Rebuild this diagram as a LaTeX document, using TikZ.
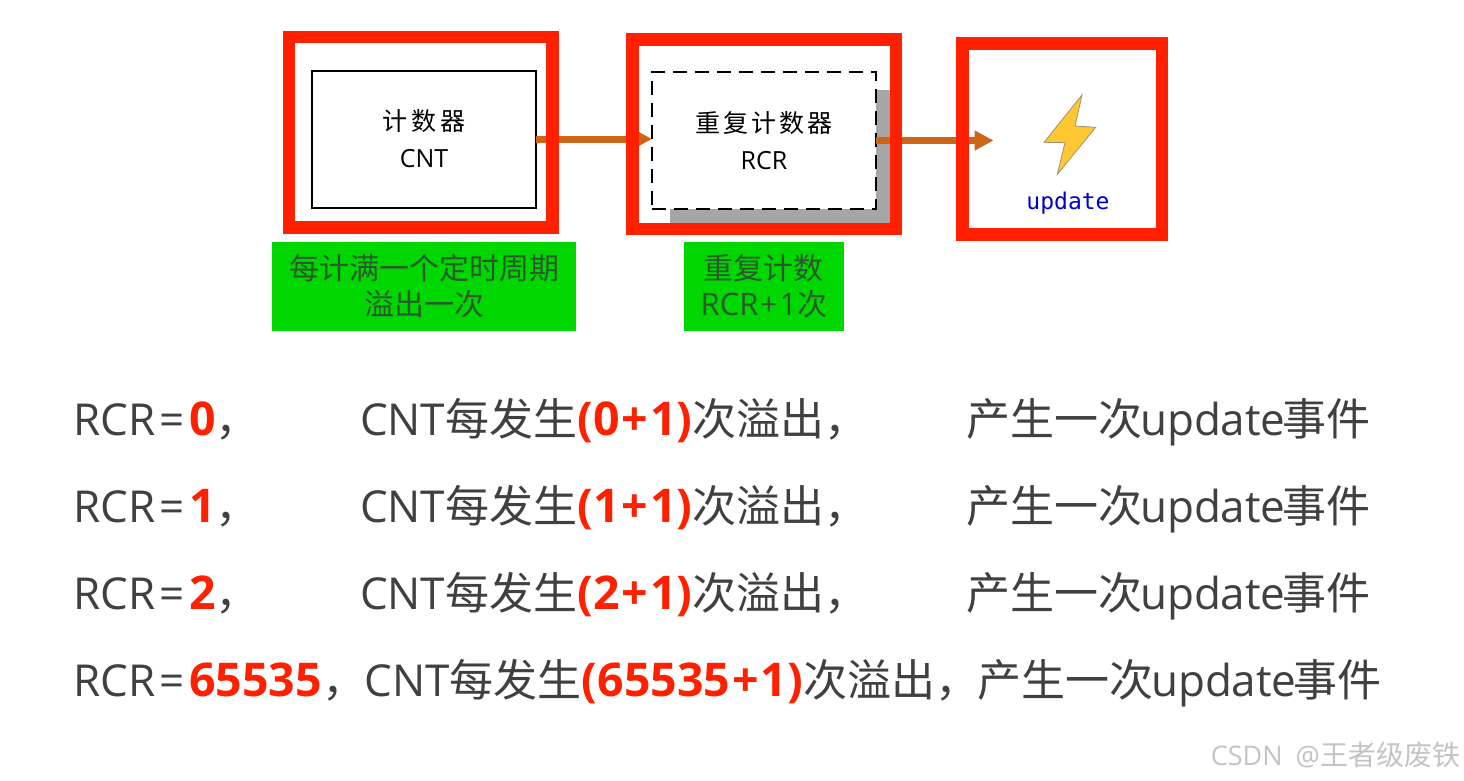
\documentclass[tikz,border=0pt]{standalone}
\usepackage{fontspec}
\usepackage{xcolor}
\usetikzlibrary{positioning, arrows.meta, shadows}

\setmainfont{Open Sans}
\newfontfamily\cjk{Noto Sans CJK SC}
\newfontfamily\monofnt{DejaVu Sans Mono}
\newcommand{\zh}[1]{{\cjk #1}}
\newcommand{\hl}[1]{{\fontsize{46.5}{50}\selectfont\bfseries\color{hired}#1}}
\newcommand{\plusgap}{\kern2pt+\kern2pt}
\newcommand{\rcreq}{RCR\kern3.5pt=\kern5pt}
\newcommand{\updevent}{\zh{产生一次}\kern-2pt update\kern-3pt\zh{事件}}

\definecolor{framered}{HTML}{FF2000}
\definecolor{hired}{HTML}{FF2000}
\definecolor{arroworange}{HTML}{CC6518}
\definecolor{notegreen}{HTML}{00D600}
\definecolor{notetext}{HTML}{2A5A2A}
\definecolor{shadowgray}{HTML}{A6A6A6}
\definecolor{rowgray}{HTML}{404040}
\definecolor{updateblue}{HTML}{0000CC}
\definecolor{boltyellow}{HTML}{FFC832}
\definecolor{boltedge}{HTML}{A09070}
\definecolor{markgray}{HTML}{C4C4C4}

\begin{document}
\begin{tikzpicture}[x=1pt, y=-1pt,
        every node/.style={inner sep=0pt, outer sep=0pt},
        counterbox/.style={draw=black, line width=2pt, fill=white, minimum width=224pt, minimum height=137pt, align=center, font=\fontsize{25}{37}\selectfont},
        redframe/.style={draw=framered, line width=12.7pt},
        notebox/.style={fill=notegreen, text=notetext, minimum height=88.7pt, align=center, font=\fontsize{30}{36}\selectfont},
        rowtext/.style={text=rowgray, anchor=base west, font=\fontsize{44}{50}\selectfont},
        flowarrow/.style={draw=arroworange, line width=7pt, -{Triangle[length=19pt,width=19pt]}}]

        \useasboundingbox (0,0) rectangle (1464,780);

        \node [counterbox] (cnt) at (424,139) {\zh{计\kern4pt 数\kern4pt 器}\\CNT};

        \node [counterbox, dash pattern=on 14pt off 8pt, drop shadow={shadow xshift=18pt, shadow yshift=-18pt, fill=shadowgray, opacity=1}, right=116pt of cnt, yshift=-1.5pt] (rcr) {\zh{重\kern3pt 复\kern3pt 计\kern3pt 数\kern3pt 器}\\RCR};

        \coordinate [right=117.5pt of rcr.east] (updtip);

        \draw [flowarrow] (cnt.east) -- (cnt.east -| rcr.west);
        \draw [flowarrow] (rcr.east) -- (updtip);

        \node [redframe, minimum width=263.6pt, minimum height=190.6pt] (cntframe) at (420.9,132.4) {};
        \node [redframe, minimum width=263.6pt, minimum height=189.4pt, right=79.7pt of cntframe, yshift=-1.9pt] (rcrframe) {};
        \node [redframe, minimum width=199.6pt, minimum height=190.6pt, right=66.4pt of rcrframe, yshift=-4.7pt] (updframe) {};

        % lightning bolt
        \draw [fill=boltyellow, draw=boltedge, line width=0.8pt] (1082,95) -- (1075,126) -- (1095.7,127.3) -- (1057.3,174.3) -- (1065,142.7) -- (1044,142.3) -- cycle;

        \node [text=updateblue, font=\monofnt\fontsize{23}{28}\selectfont] (update) at (1068,203.5) {update};

        \node [notebox, minimum width=304pt] (cntnote) at (424,286.3) {\zh{每计满一个定时周期}\\\zh{溢出一次}};
        \node [notebox, minimum width=160.4pt] (rcrnote) at (763.9,286.3) {\zh{重复计数}\\{\fontsize{31}{36}\selectfont RCR\kern1.5pt+\kern1.5pt 1}\zh{次}};

        \node [rowtext] (rcra) at (73.5,435) {\rcreq\hl{0}\zh{，}};
        \node [rowtext, right=286.5pt of rcra.base west, anchor=base west] (cnta) {CNT\zh{每发生}\hl{(0\plusgap 1)}\zh{次溢出，}};
        \node [rowtext, right=892.5pt of rcra.base west, anchor=base west] (upda) {\updevent};

        \node [rowtext, below=87pt of rcra.base west, anchor=base west] (rcrb) {\rcreq\hl{1}\zh{，}};
        \node [rowtext, right=286.5pt of rcrb.base west, anchor=base west] (cntb) {CNT\zh{每发生}\hl{(1\plusgap 1)}\zh{次溢出，}};
        \node [rowtext, right=892.5pt of rcrb.base west, anchor=base west] (updb) {\updevent};

        \node [rowtext, below=87pt of rcrb.base west, anchor=base west] (rcrc) {\rcreq\hl{2}\zh{，}};
        \node [rowtext, right=286.5pt of rcrc.base west, anchor=base west] (cntc) {CNT\zh{每发生}\hl{(2\plusgap 1)}\zh{次溢出，}};
        \node [rowtext, right=892.5pt of rcrc.base west, anchor=base west] (updc) {\updevent};

        \node [rowtext, below=87pt of rcrc.base west, anchor=base west] (rcrd) {\rcreq\hl{65535}\zh{，}};
        \node [rowtext, right=291pt of rcrd.base west, anchor=base west] (cntd) {CNT\zh{每发生}\hl{(65535\plusgap 1)}\zh{次溢出，}};
        \node [rowtext, right=903.5pt of rcrd.base west, anchor=base west] (updd) {\updevent};

        \node [text=markgray, anchor=base east, font=\fontsize{27}{30}\selectfont] (mark) at (1460,765) {CSDN\kern6pt\ @{\fontsize{28}{30}\selectfont\zh{王者级废铁}}};

    \end{tikzpicture}
\end{document}
